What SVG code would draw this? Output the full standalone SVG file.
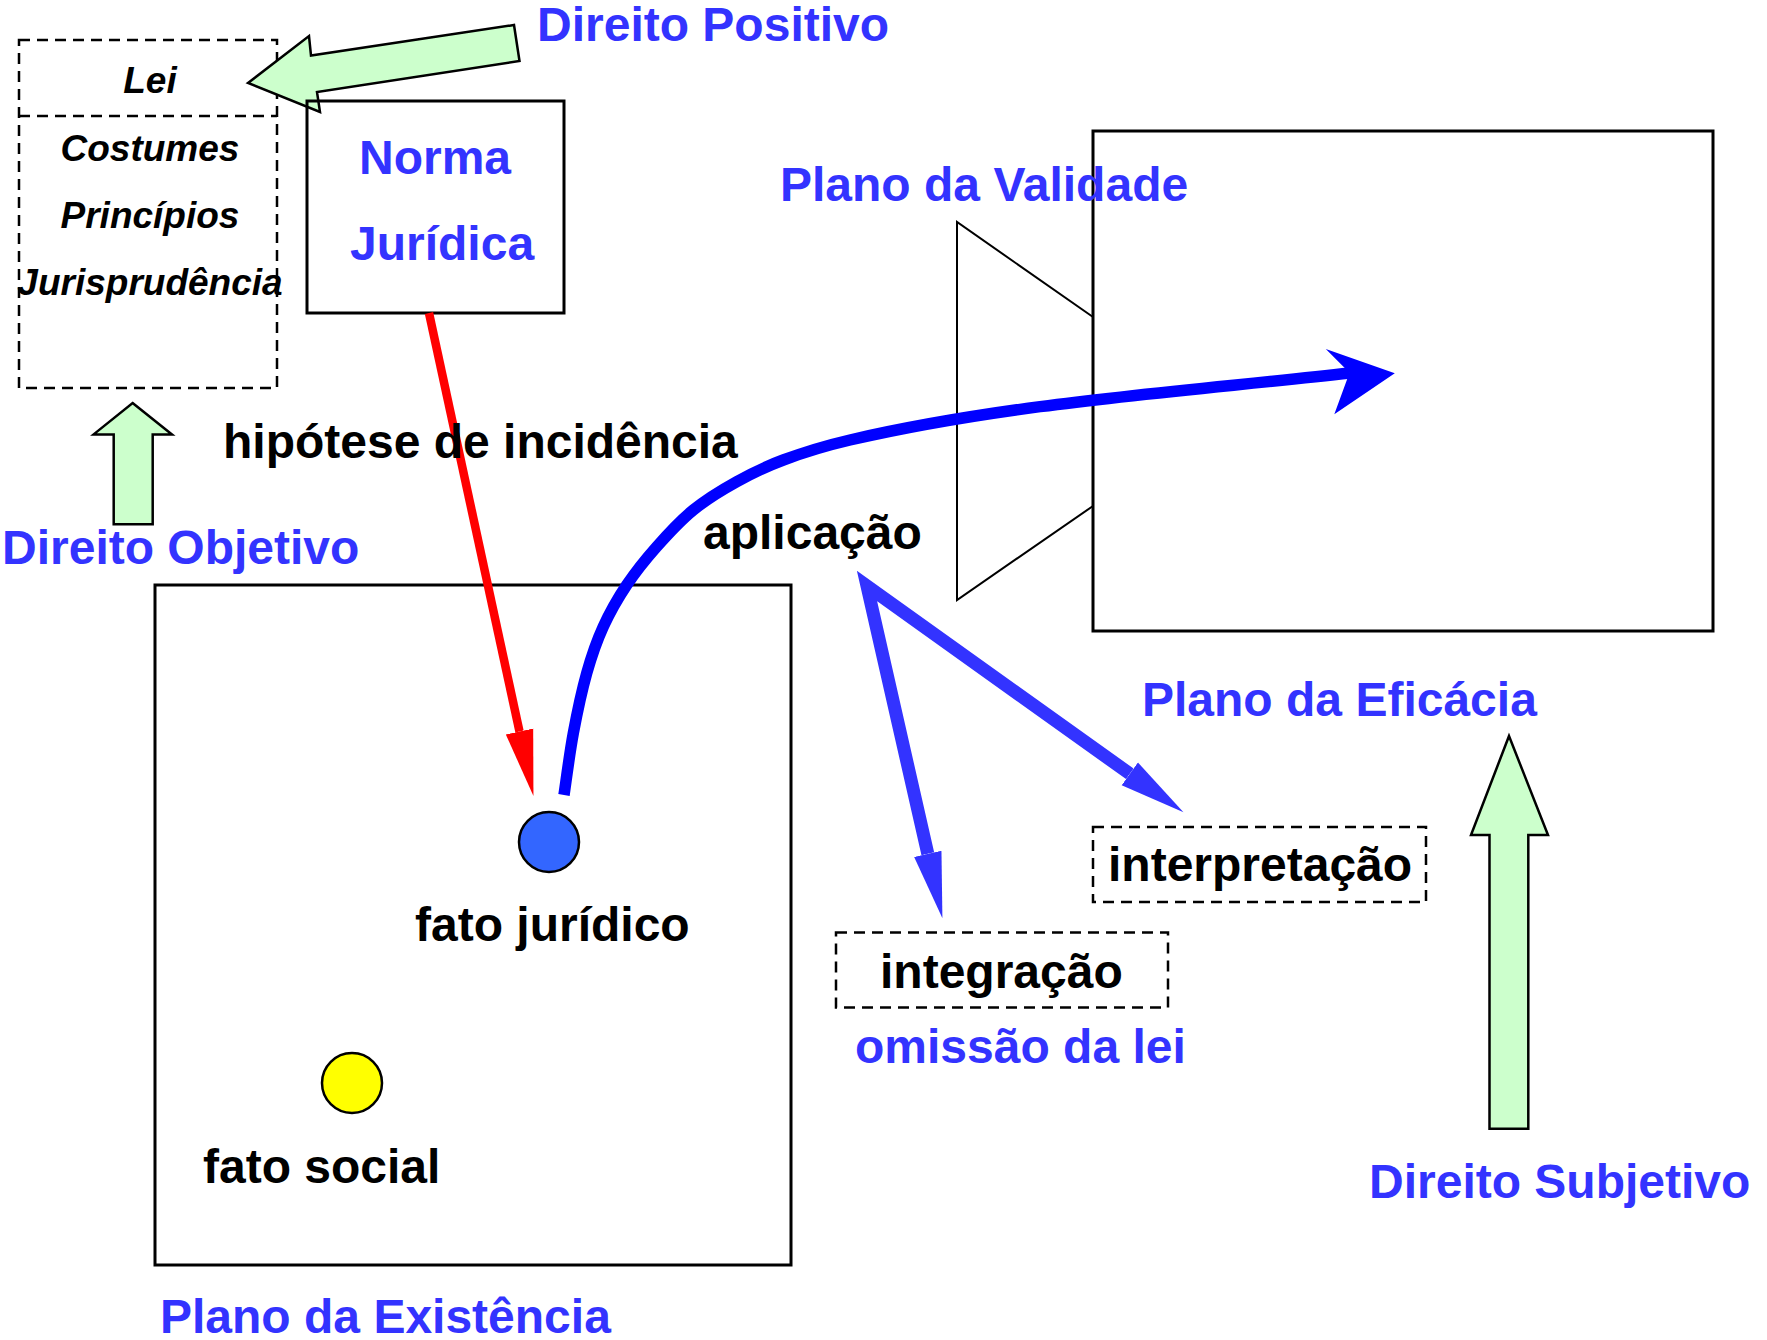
<svg xmlns="http://www.w3.org/2000/svg" width="1767" height="1340" viewBox="0 0 1767 1340">
<style>
  text { font-family: "Liberation Sans", Arial, sans-serif; font-weight: bold; }
  .blue { fill: #3333FF; font-size: 48px; }
  .blk { fill: #000000; font-size: 48px; }
  .ital { fill: #000000; font-size: 37px; font-style: italic; }
  .box { fill: none; stroke: #000000; stroke-width: 3; }
  .dash { fill: none; stroke: #000000; stroke-width: 2.5; stroke-dasharray: 11 7; }
  .green { fill: #CCFFCC; stroke: #000000; stroke-width: 2.5; stroke-linejoin: miter; }
</style>
<defs>
  <marker id="headRed" markerUnits="userSpaceOnUse" viewBox="0 -15 68 30" refX="0" refY="0" markerWidth="68" markerHeight="30" orient="auto">
    <path d="M0,-14 L66,0 L0,14 Z" fill="#FF0000"/>
  </marker>
  <marker id="headBlue" markerUnits="userSpaceOnUse" viewBox="0 -16 68 32" refX="0" refY="0" markerWidth="68" markerHeight="32" orient="auto">
    <path d="M0,-14 L66,0 L0,14 Z" fill="#3333FF"/>
  </marker>
</defs>
<rect width="1767" height="1340" fill="#FFFFFF"/>

<g id="plano-existencia">
  <rect class="box" x="155" y="585" width="636" height="680"/>
  <text class="blue" x="160" y="1333">Plano da Existência</text>
</g>

<g id="plano-eficacia">
  <rect class="box" x="1093" y="131" width="620" height="500"/>
  <text class="blue" x="1142" y="716">Plano da Eficácia</text>
</g>

<g id="plano-validade">
  <polyline points="1093,317 957,222 957,600 1093,506" fill="none" stroke="#000000" stroke-width="2"/>
  <text class="blue" x="780" y="201">Plano da Validade</text>
</g>

<g id="fontes">
  <rect class="dash" x="19" y="40" width="258" height="348"/>
  <line class="dash" x1="19" y1="116" x2="277" y2="116"/>
  <text class="ital" x="150" y="93" text-anchor="middle">Lei</text>
  <text class="ital" x="150" y="161" text-anchor="middle">Costumes</text>
  <text class="ital" x="150" y="228" text-anchor="middle">Princípios</text>
  <text class="ital" x="150" y="295" text-anchor="middle">Jurisprudência</text>
</g>

<g id="direito-positivo">
  <polygon class="green" points="248,83 309,36 311,55.5 514,25 519.5,61 317,92 320,112"/>
  <text class="blue" x="537" y="41">Direito Positivo</text>
</g>

<g id="direito-objetivo">
  <polygon class="green" points="132.6,403 172,434.4 152.7,434.4 152.7,524.3 113.7,524.3 113.7,434.4 93.6,434.4"/>
  <text class="blue" x="2" y="564">Direito Objetivo</text>
</g>

<g id="direito-subjetivo">
  <polygon class="green" points="1509,736 1548,835 1528.3,835 1528.3,1128.7 1489.5,1128.7 1489.5,835 1471,835"/>
  <text class="blue" x="1369" y="1198">Direito Subjetivo</text>
</g>

<g id="norma-juridica">
  <rect class="box" x="307" y="101" width="257" height="212"/>
  <text class="blue" x="359" y="174">Norma</text>
  <text class="blue" x="350" y="260">Jurídica</text>
</g>

<g id="connectors">
  <line x1="429" y1="313" x2="519.5" y2="731.5" stroke="#FF0000" stroke-width="8.5" marker-end="url(#headRed)"/>
  <path d="M564,795 C565.6,784.7 569.5,753.6 573.3,733.3 C577.1,713.0 581.7,691.1 586.7,673.3 C591.7,655.5 596.6,641.4 603.3,626.7 C610.0,612.0 617.8,598.3 626.7,585 C635.6,571.7 645.6,559.2 656.7,546.7 C667.8,534.2 680.0,520.8 693.3,510 C706.6,499.2 721.7,490.0 736.7,481.7 C751.7,473.4 764.4,467.0 783.3,460 C802.2,453.0 821.1,446.7 850,440 C1012,402.5 1184.4,391.6 1350,373" fill="none" stroke="#0000FF" stroke-width="11.5"/>
  <polygon points="1394.8,373.2 1325.8,349 1349.5,372.7 1334.3,414.3" fill="#0000FF"/>
  <polyline points="927.8,853.8 867,586 1129.8,773.8" fill="none" stroke="#3333FF" stroke-width="13" stroke-linejoin="miter"/>
  <line x1="867" y1="586" x2="927.8" y2="853.8" stroke="#3333FF" stroke-width="13" stroke-opacity="0" marker-end="url(#headBlue)"/>
  <line x1="867" y1="586" x2="1129.8" y2="773.8" stroke="#3333FF" stroke-width="13" stroke-opacity="0" marker-end="url(#headBlue)"/>
</g>

<g id="hipotese">
  <text class="blk" x="223" y="458">hipótese de incidência</text>
</g>

<g id="aplicacao">
  <text class="blk" x="703" y="549">aplicação</text>
</g>

<g id="fato-juridico">
  <circle cx="549" cy="842" r="30" fill="#3366FF" stroke="#000000" stroke-width="2.5"/>
  <text class="blk" x="415" y="941">fato jurídico</text>
</g>

<g id="fato-social">
  <circle cx="352" cy="1083" r="30" fill="#FFFF00" stroke="#000000" stroke-width="2.5"/>
  <text class="blk" x="203" y="1183">fato social</text>
</g>

<g id="interpretacao">
  <rect class="dash" x="1093" y="827" width="333" height="75"/>
  <text class="blk" x="1108" y="881">interpretação</text>
</g>

<g id="integracao">
  <rect class="dash" x="836" y="932.5" width="332" height="75"/>
  <text class="blk" x="880" y="988">integração</text>
  <text class="blue" x="855" y="1063">omissão da lei</text>
</g>
</svg>
